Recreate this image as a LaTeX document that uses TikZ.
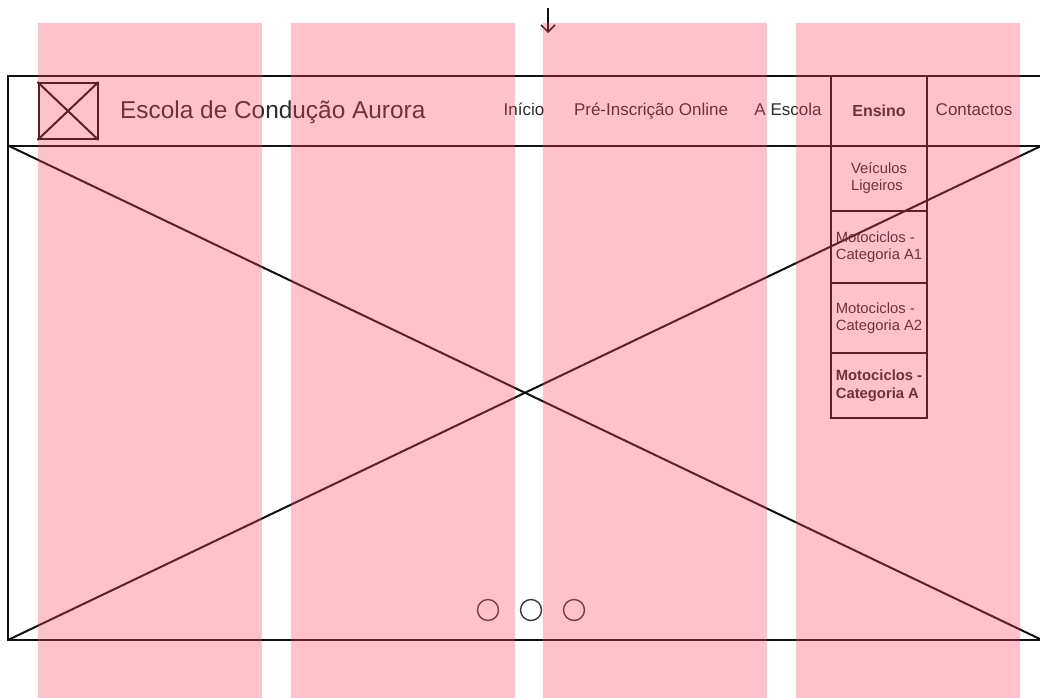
\documentclass[tikz,border=0pt]{standalone}
\usepackage{fontspec}
\setmainfont{Liberation Sans}
\usetikzlibrary{arrows.meta}
\definecolor{ink}{HTML}{111111}
\definecolor{txt}{HTML}{2C2C2C}
\definecolor{dotgray}{HTML}{3A3A3A}
\definecolor{colpink}{RGB}{255,64,96}
\tikzset{
  wire/.style={draw=ink, line width=2pt},
  navtext/.style={text=txt, inner sep=0pt, anchor=base, font=\fontsize{17}{20}\selectfont},
  ddbox/.style={draw=ink, line width=2pt, minimum width=96pt, inner sep=0pt, align=left, text=txt,
                font=\fontsize{14.8}{17.5}\selectfont},
  dot/.style={circle, draw=dotgray, line width=1.4pt, minimum size=21pt, inner sep=0pt},
  gridcol/.style={fill=colpink, opacity=0.32}
}
\begin{document}
\begin{tikzpicture}[x=1pt,y=-1pt]
\useasboundingbox (0,0) rectangle (1040,697);
\clip (0,0) rectangle (1040,697);
\fill[white] (0,0) rectangle (1040,697);

% frame corners
\coordinate (ftl) at (8,75.5);
\coordinate (fbr) at (1042,640);
\coordinate (htl) at (8,145.5);
\coordinate (htr) at (1042,145.5);
\coordinate (fbl) at (8,640);

\draw[wire] (ftl) rectangle (fbr);
\draw[wire] (htl) -- (htr);
\draw[wire] (htl) -- (fbr);
\draw[wire] (fbl) -- (htr);

% logo
\node[draw=ink, line width=2pt, minimum width=59pt, minimum height=56pt, inner sep=0pt] (logo) at (68,111) {};
\draw[wire] (logo.north west) -- (logo.south east);
\draw[wire] (logo.south west) -- (logo.north east);

% title
\node[text=txt, inner sep=0pt, anchor=base west, font=\fontsize{24.4}{28}\selectfont] (title) at (120,118) {Escola de Condução Aurora};

% nav
\node[navtext] (inicio) at (524,115) {Início};
\node[navtext] (pre) at (651,115) {Pré-Inscrição Online};
\node[navtext] (escola) at (788,115) {A Escola};
\node[ddbox, minimum height=70pt, font=\fontsize{16}{20}\bfseries] (ensino) at (879,110.5) {Ensino};
\node[navtext] (contactos) at (974,115) {Contactos};

% dropdown
\node[ddbox, minimum height=65.5pt] (d1) at (879,178.25) {Veículos\\Ligeiros};
\node[ddbox, minimum height=71.5pt] (d2) at (879,247) {Motociclos -\\Categoria A1};
\node[ddbox, minimum height=70pt] (d3) at (879,318) {Motociclos -\\Categoria A2};
\node[ddbox, minimum height=65pt, font=\fontsize{14.8}{17.5}\selectfont\bfseries] (d4) at (879,385.5) {Motociclos -\\Categoria A};

% carousel dots
\node[dot] (c1) at (488,610) {};
\node[dot] (c2) at (531,610) {};
\node[dot] (c3) at (574,610) {};

% arrow
\coordinate (a0) at (548,8);
\coordinate (a1) at (548,33);
\draw[draw=ink, line width=1.5pt, -{Straight Barb[length=7pt,width=14pt]}] (a0) -- (a1);

% grid columns overlay
\foreach \x in {38,290.7,543.3,796}
  \fill[gridcol] (\x,22.5) rectangle ++(224,680);
\end{tikzpicture}
\end{document}
